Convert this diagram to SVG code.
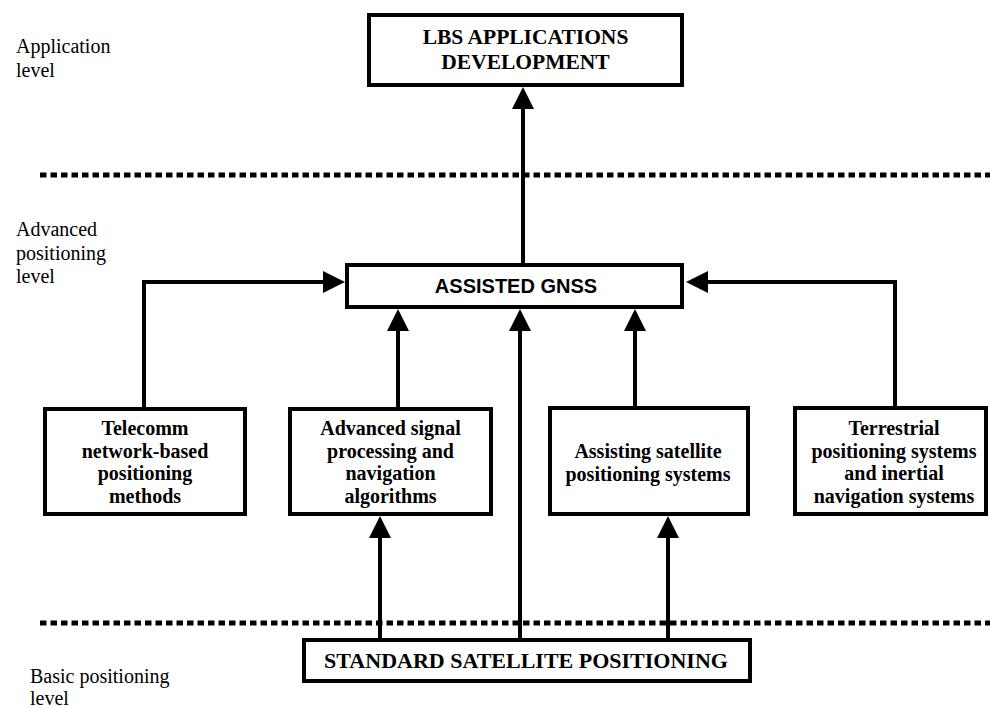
<svg xmlns="http://www.w3.org/2000/svg" width="990" height="708" viewBox="0 0 990 708">
  <style>
    .box { fill: #fff; stroke: #000; stroke-width: 4; }
    .node { font-family: "Liberation Serif", "Times New Roman", serif; font-weight: bold; font-size: 20px; text-anchor: middle; fill: #000; }
    .big { font-size: 21.5px; }
    .std { font-size: 22px; }
    .sans { font-family: "Liberation Sans", Arial, sans-serif; font-weight: bold; font-size: 20px; text-anchor: middle; fill: #000; }
    .level { font-family: "Liberation Serif", "Times New Roman", serif; font-size: 20px; fill: #000; }
    .sep { stroke: #000; stroke-width: 5; stroke-dasharray: 6.5 4; fill: none; }
    .link { stroke: #000; stroke-width: 4; fill: none; marker-end: url(#head); }
  </style>
  <defs>
    <marker id="head" markerUnits="userSpaceOnUse" markerWidth="22" markerHeight="22" refX="2" refY="11" orient="auto">
      <path d="M0,0 L22,11 L0,22 Z" fill="#000"/>
    </marker>
  </defs>
  <rect width="990" height="708" fill="#fff"/>

  <!-- level labels -->
  <g id="levels">
    <text class="level" x="16" y="53">Application</text>
    <text class="level" x="16" y="77">level</text>
    <text class="level" x="16" y="236">Advanced</text>
    <text class="level" x="16" y="260">positioning</text>
    <text class="level" x="16" y="283">level</text>
    <text class="level" x="30" y="683">Basic positioning</text>
    <text class="level" x="30" y="705">level</text>
  </g>

  <!-- level separators -->
  <g id="separators">
    <line class="sep" x1="40" y1="175" x2="990" y2="175"/>
    <line class="sep" x1="40" y1="623" x2="990" y2="623"/>
  </g>

  <!-- connectors -->
  <g id="connectors">
    <path class="link" d="M523 263 V107"/>
    <path class="link" d="M144 407 V282 H325"/>
    <path class="link" d="M398 407 V329"/>
    <path class="link" d="M520 638 V329"/>
    <path class="link" d="M635 406 V329"/>
    <path class="link" d="M895 406 V282 H706"/>
    <path class="link" d="M380 638 V536"/>
    <path class="link" d="M668 638 V536"/>
  </g>

  <g id="lbs">
    <rect class="box" x="369" y="15" width="313" height="70"/>
    <text class="node big" x="525.5" y="44">LBS APPLICATIONS</text>
    <text class="node big" x="525.5" y="69">DEVELOPMENT</text>
  </g>

  <g id="agnss">
    <rect class="box" x="347" y="265" width="335" height="42"/>
    <text class="sans" x="516" y="293">ASSISTED GNSS</text>
  </g>

  <g id="telecomm">
    <rect class="box" x="45" y="409" width="200" height="105"/>
    <text class="node" x="145" y="435">Telecomm</text>
    <text class="node" x="145" y="458">network-based</text>
    <text class="node" x="145" y="480">positioning</text>
    <text class="node" x="145" y="503">methods</text>
  </g>

  <g id="signal">
    <rect class="box" x="290" y="409" width="201" height="105"/>
    <text class="node" x="390.5" y="435">Advanced signal</text>
    <text class="node" x="390.5" y="458">processing and</text>
    <text class="node" x="390.5" y="480">navigation</text>
    <text class="node" x="390.5" y="503">algorithms</text>
  </g>

  <g id="assisting">
    <rect class="box" x="550" y="408" width="198" height="106"/>
    <text class="node" x="648" y="458">Assisting satellite</text>
    <text class="node" x="648" y="481">positioning systems</text>
  </g>

  <g id="terrestrial">
    <rect class="box" x="795" y="408" width="191" height="106"/>
    <text class="node" x="894" y="435">Terrestrial</text>
    <text class="node" x="894" y="458">positioning systems</text>
    <text class="node" x="894" y="480">and inertial</text>
    <text class="node" x="894" y="503">navigation systems</text>
  </g>

  <g id="standard">
    <rect class="box" x="304" y="640" width="446" height="41"/>
    <text class="node std" x="526" y="668">STANDARD SATELLITE POSITIONING</text>
  </g>
</svg>
